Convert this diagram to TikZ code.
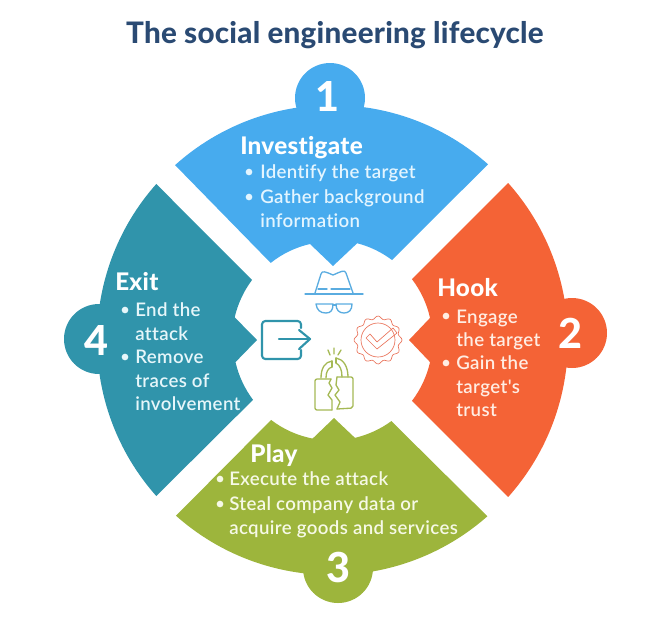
\documentclass[tikz,border=0pt]{standalone}
\usepackage{fontspec}
\setmainfont{Lato}
\newfontfamily\bodyface{Lato Semibold}[Ligatures=NoCommon,LetterSpace=2]
\newfontfamily\headface{Lato Heavy}[Ligatures=NoCommon,LetterSpace=1.2]
\newfontfamily\titleface{Lato Heavy}[Ligatures=NoCommon,LetterSpace=0.8]
\definecolor{cblue}{HTML}{47ABEE}
\definecolor{corange}{HTML}{F46336}
\definecolor{cgreen}{HTML}{9DB53C}
\definecolor{cteal}{HTML}{3094AB}
\definecolor{navy}{HTML}{2A4A73}
\definecolor{tblue}{HTML}{E3F5FF}
\definecolor{torange}{HTML}{FFEDE3}
\definecolor{tgreen}{HTML}{F6F9E6}
\definecolor{tteal}{HTML}{E6F6FA}
\definecolor{ihat}{HTML}{5AACE0}
\definecolor{ibadge}{HTML}{E9735A}
\definecolor{ilock}{HTML}{A5B955}
\tikzset{
  headtxt/.style={anchor=base west,inner sep=0pt,font=\fontsize{18.2}{20}\selectfont\headface,text=white},
  bodytxt/.style={anchor=base west,inner sep=0pt,font=\fontsize{14}{16}\selectfont\bodyface},
  numtxt/.style={anchor=base,inner sep=0pt,font=\fontsize{31}{34}\selectfont\headface,text=white},
  bull/.style={circle,inner sep=0pt,minimum size=5pt},
  iconline/.style={line width=1pt,line join=round,line cap=round},
}
\begin{document}
\begin{tikzpicture}[x=0.75pt,y=-0.75pt]
\useasboundingbox (0,0) rectangle (670,619);
\node[anchor=base,inner sep=0pt,font=\fontsize{22.2}{26}\selectfont\titleface,text=navy] (title) at (335,43) {The social engineering lifecycle};
% number discs
\fill[cblue] (330,98) circle[radius=35];
\fill[corange] (572,333) circle[radius=35];
\fill[cgreen] (338,568) circle[radius=35];
\fill[cteal] (99,339) circle[radius=35];
\begin{scope}[shift={(332,340)}]
% blue sector
\fill[cblue] (-131.9:235) arc[start angle=-131.9,end angle=-48.4,radius=235] -- (-53.1:100) arc[start angle=-53.1,end angle=-75.4,radius=100] -- (1,-74) -- (-102.9:98.5) arc[start angle=-102.9,end angle=-128.5,radius=98.5] -- cycle;
% orange sector
\fill[corange] (-41.7:236) arc[start angle=-41.7,end angle=41.7,radius=236] -- (37.3:100.5) arc[start angle=37.3,end angle=12.7,radius=100.5] -- (77,0) -- (-12.7:100.5) arc[start angle=-12.7,end angle=-37.3,radius=100.5] -- cycle;
% green sector
\fill[cgreen] (48.6:235) arc[start angle=48.6,end angle=131.6,radius=235] -- (127.3:100.5) arc[start angle=127.3,end angle=101,radius=100] -- (2,78) -- (76.8:100.5) arc[start angle=76.8,end angle=53.8,radius=100.5] -- cycle;
% teal sector
\fill[cteal] (138.4:235) arc[start angle=138.4,end angle=221.6,radius=235] -- (216.9:100) arc[start angle=216.9,end angle=192.9,radius=99] -- (-75,0) -- (167.1:99) arc[start angle=167.1,end angle=143.1,radius=100] -- cycle;
\end{scope}
% blue text
\node[numtxt] (n1) at (327,111) {1};
\node[headtxt] (h1) at (240,154) {Investigate};
\node[bull,fill=tblue] (b1a) at (249,172) {};
\node[bull,fill=tblue] (b1b) at (249,197) {};
\node[bodytxt,text=tblue] (t1a) at (260,178) {Identify the target};
\node[bodytxt,text=tblue] (t1b) at (260,203) {Gather background};
\node[bodytxt,text=tblue] (t1c) at (260,227) {information};
% orange text
\node[numtxt] (n2) at (570,348) {2};
\node[headtxt] (h2) at (437,296) {Hook};
\node[bull,fill=torange] (b2a) at (446,316) {};
\node[bull,fill=torange] (b2b) at (446,363) {};
\node[bodytxt,text=torange] (t2a) at (456,323) {Engage};
\node[bodytxt,text=torange] (t2b) at (456,346) {the target};
\node[bodytxt,text=torange] (t2c) at (456,369) {Gain the};
\node[bodytxt,text=torange] (t2d) at (456,393) {target's};
\node[bodytxt,text=torange] (t2e) at (456,416) {trust};
% green text
\node[numtxt] (n3) at (338,582) {3};
\node[headtxt] (h3) at (250,462) {Play};
\node[bull,fill=tgreen] (b3a) at (220,479) {};
\node[bull,fill=tgreen] (b3b) at (220,504) {};
\node[bodytxt,text=tgreen] (t3a) at (229,485) {Execute the attack};
\node[bodytxt,text=tgreen] (t3b) at (229,510) {Steal company data or};
\node[bodytxt,text=tgreen] (t3c) at (229,534) {acquire goods and services};
% teal text
\node[numtxt] (n4) at (96,355) {4};
\node[headtxt] (h4) at (115,290) {Exit};
\node[bull,fill=tteal] (b4a) at (125,310) {};
\node[bull,fill=tteal] (b4b) at (125,357) {};
\node[bodytxt,text=tteal] (t4a) at (135,316) {End the};
\node[bodytxt,text=tteal] (t4b) at (135,340) {attack};
\node[bodytxt,text=tteal] (t4c) at (135,363) {Remove};
\node[bodytxt,text=tteal] (t4d) at (135,387) {traces of};
\node[bodytxt,text=tteal] (t4e) at (135,410) {involvement};
% hat icon
\begin{scope}[iconline,draw=ihat]
\draw (305,294) -- (363,294);
\draw (315,293) -- (321,274) .. controls (322,270) and (326,272) .. (333,275) .. controls (340,272) and (345,269) .. (346,273) -- (353,293);
\draw (318,289) -- (327,289) (331,289) -- (350,289);
\draw (316,304) -- (333,304) .. controls (333,310) and (331,313) .. (326,313) .. controls (320,313) and (317,310) .. (316,304) -- cycle;
\draw (336,304) -- (352,304) .. controls (352,310) and (349,313) .. (344,313) .. controls (339,313) and (336,310) .. (336,304) -- cycle;
\draw (333,305) -- (336,305);
\end{scope}
% exit icon
\begin{scope}[line join=round,line cap=round,draw=cteal,line width=1.6pt]
\draw[rounded corners=2.5pt] (301,328) -- (301,321) -- (262,321) -- (262,359) -- (301,359) -- (301,350);
\draw (279,339) -- (310,339);
\draw (299,330) -- (310,339) -- (299,349);
\end{scope}
% badge icon
\begin{scope}[shift={(378,340)},draw=ibadge,line width=0.5pt,line join=round]
\draw[smooth cycle,samples=85,domain=0:356] plot ({\x}:{22.5+1.5*cos(12*\x)}) -- cycle;
\draw (0,0) circle[radius=17];
\end{scope}
\draw[draw=ibadge,line width=0.5pt,line join=round] (366,338) -- (370,334) -- (377,342) -- (393,328) -- (397,333) -- (377,349) -- cycle;
% lock icon
\begin{scope}[iconline,draw=ilock]
\draw[rounded corners=1.5pt] (331,379) -- (315,379) -- (315,410) -- (332,410);
\draw (331,379) -- (329,383) -- (332,388) -- (328,395) -- (332,400) -- (332,410);
\draw[rounded corners=1.5pt] (337,377) -- (353,377) -- (353,408) -- (337,409);
\draw (337,377) -- (336,385) -- (339,390) -- (335,395) -- (340,402) -- (337,409);
\draw (321,378) .. controls (321,368) and (325,362) .. (332,361);
\draw (326,378) .. controls (326,372) and (328,368) .. (332,367);
\draw (348,377) .. controls (348,366) and (343,359) .. (336,358);
\draw (342,377) .. controls (342,370) and (340,365) .. (336,363);
\draw (332,361) -- (332,367) (336,358) -- (336,363);
\draw (328,350) -- (330,355) (334,348) -- (334,354) (341,350) -- (338,355);
\end{scope}
\end{tikzpicture}
\end{document}
